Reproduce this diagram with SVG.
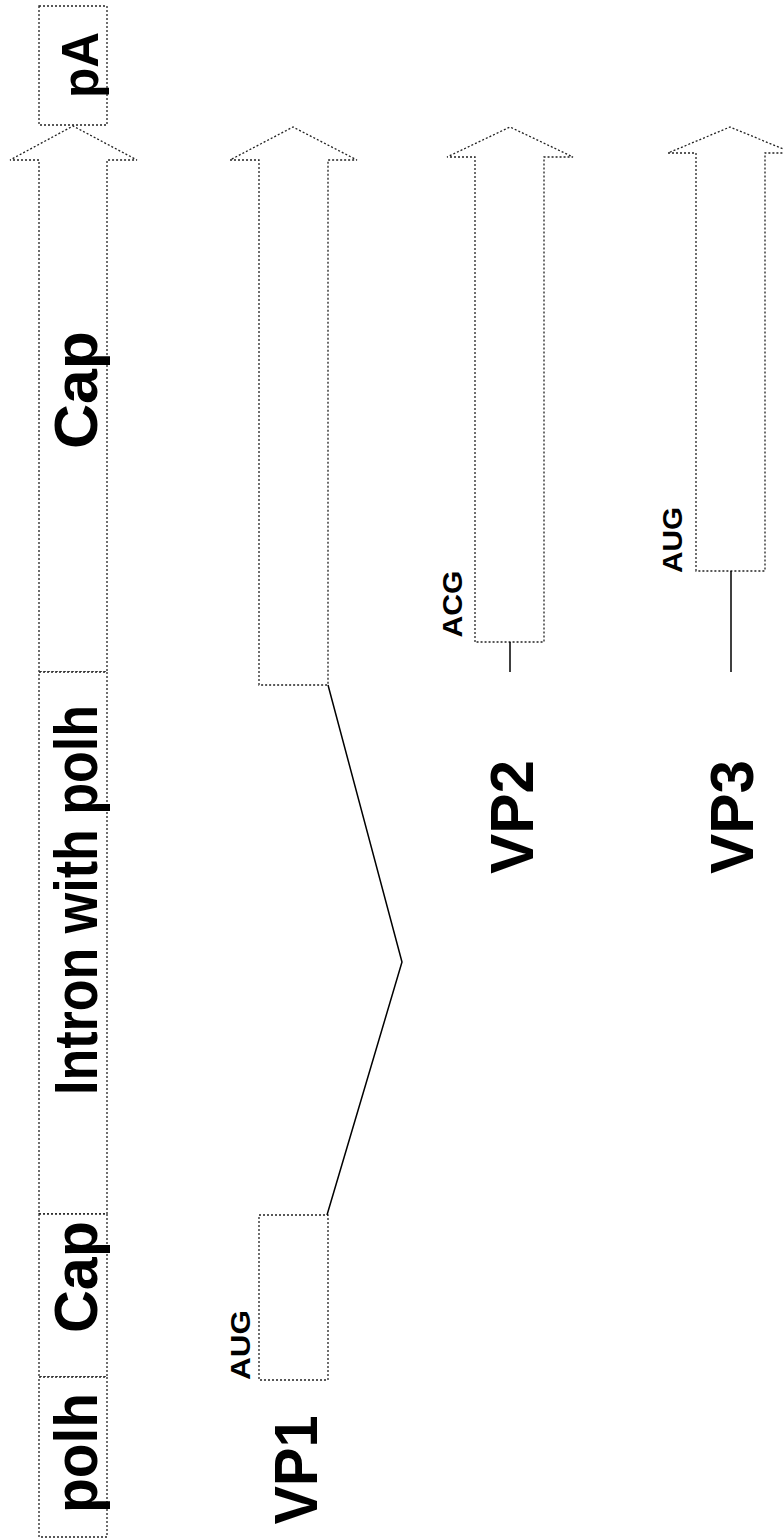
<svg xmlns="http://www.w3.org/2000/svg" width="784" height="1538" viewBox="0 0 784 1538">
<style>
.box{fill:#fff;stroke:#222;stroke-width:1.3;stroke-dasharray:2 2}
.ln{fill:none;stroke:#000;stroke-width:1.5}
.big{font-family:"Liberation Sans",Arial,sans-serif;font-weight:bold;font-size:62px;fill:#000}
.sm{font-family:"Liberation Sans",Arial,sans-serif;font-weight:bold;font-size:28px;fill:#000}
</style>
<rect width="784" height="1538" fill="#fff"/>
<g id="construct">
  <g id="pA"><rect class="box" x="39" y="6" width="68" height="119"/>
    <text class="big" style="font-size:52px" text-anchor="middle" textLength="66" lengthAdjust="spacingAndGlyphs" transform="translate(98,65) rotate(-90)">pA</text></g>
  <g id="cap-arrow"><polygon class="box" points="39,672 39,160 10,160 73,126 137,160 107,160 107,672"/>
    <text class="big" text-anchor="middle" textLength="118" lengthAdjust="spacingAndGlyphs" transform="translate(97,390) rotate(-90)">Cap</text></g>
  <g id="intron"><rect class="box" x="39" y="672" width="68" height="542"/>
    <text class="big" text-anchor="middle" textLength="390" lengthAdjust="spacingAndGlyphs" transform="translate(97,900) rotate(-90)">Intron with polh</text></g>
  <g id="cap-small"><rect class="box" x="39" y="1214" width="68" height="163"/>
    <text class="big" text-anchor="middle" textLength="112" lengthAdjust="spacingAndGlyphs" transform="translate(97,1277) rotate(-90)">Cap</text></g>
  <g id="polh"><rect class="box" x="39" y="1377" width="68" height="160"/>
    <text class="big" text-anchor="middle" textLength="120" lengthAdjust="spacingAndGlyphs" transform="translate(97,1453) rotate(-90)">polh</text></g>
</g>
<g id="vp1">
  <polygon class="box" points="259,685 259,160 230,160 293,127 357,160 328,160 328,685"/>
  <rect class="box" x="259" y="1215" width="69" height="165"/>
  <text class="sm" text-anchor="middle" textLength="70" lengthAdjust="spacingAndGlyphs" transform="translate(250,1345) rotate(-90)">AUG</text>
  <text class="big" text-anchor="middle" textLength="109" lengthAdjust="spacingAndGlyphs" transform="translate(317,1470) rotate(-90)">VP1</text>
</g>
<g id="vp2">
  <polygon class="box" points="475,642 475,157 447,157 510,127 573,157 544,157 544,642"/>
  <text class="sm" text-anchor="middle" textLength="67" lengthAdjust="spacingAndGlyphs" transform="translate(462,604) rotate(-90)">ACG</text>
  <text class="big" text-anchor="middle" textLength="114" lengthAdjust="spacingAndGlyphs" transform="translate(533,817) rotate(-90)">VP2</text>
</g>
<g id="vp3">
  <polygon class="box" points="696,571 696,153 668,153 730,127 793,153 765,153 765,571"/>
  <text class="sm" text-anchor="middle" textLength="66" lengthAdjust="spacingAndGlyphs" transform="translate(682,540) rotate(-90)">AUG</text>
  <text class="big" text-anchor="middle" textLength="114" lengthAdjust="spacingAndGlyphs" transform="translate(753,817) rotate(-90)">VP3</text>
</g>
<g id="connectors">
  <polyline class="ln" points="328,685 402,962 327,1215"/>
  <line class="ln" x1="510" y1="642" x2="510" y2="672"/>
  <line class="ln" x1="731" y1="571" x2="731" y2="672"/>
</g>
</svg>
